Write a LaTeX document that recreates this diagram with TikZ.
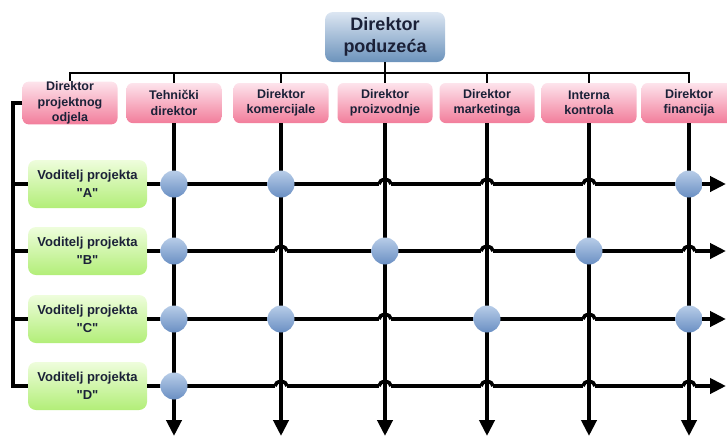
\documentclass[tikz,border=0pt]{standalone}
\usepackage{fontspec}
\setmainfont{Liberation Sans}
\usetikzlibrary{arrows.meta}
\definecolor{txt}{HTML}{1B2138}
\definecolor{bosstop}{HTML}{DCE6F2}
\definecolor{bossbot}{HTML}{6C93BC}
\definecolor{depttop}{HTML}{FDE4EC}
\definecolor{deptbot}{HTML}{F27D9B}
\definecolor{projtop}{HTML}{EEFDDC}
\definecolor{projbot}{HTML}{B2EE78}
\definecolor{dottop}{HTML}{B8CDE8}
\definecolor{dotbot}{HTML}{6A8FC3}
\newcommand{\proj}[1]{Voditelj projekta\\\textquotedbl#1\textquotedbl}
\tikzset{
  boss/.style={rounded corners=8pt, top color=bosstop, bottom color=bossbot,
    minimum width=120pt, minimum height=50pt, inner sep=0pt, align=center,
    text=txt, font=\bfseries\fontsize{18}{22}\selectfont},
  dept/.style={rounded corners=6pt, top color=depttop, bottom color=deptbot,
    minimum width=95pt, minimum height=40pt, inner sep=0pt, align=center,
    text=txt, font=\bfseries\fontsize{12.5}{15.5}\selectfont},
  proj/.style={rounded corners=8pt, top color=projtop, bottom color=projbot,
    minimum width=119pt, minimum height=48pt, inner sep=0pt, align=center,
    text=txt, font=\bfseries\fontsize{13}{18}\selectfont},
  flow/.style={line width=4pt},
  arr/.style={flow, -{Triangle[length=16pt,width=15pt]}},
  bus/.style={line width=1.5pt},
  hop/.style={line width=3.6pt},
  dot/.style={circle, inner sep=0pt, minimum size=27pt,
    top color=dottop, bottom color=dotbot},
}
\begin{document}
\begin{tikzpicture}[x=1pt,y=-1pt]
\useasboundingbox (0,0) rectangle (727,437);

% uprava
\node[boss] (boss) at (385,37) {Direktor\\poduzeća};

% direktori
\node[dept] (dpo) at (70,103) {Direktor\\projektnog\\odjela};
\node[dept] (teh) at (174,103) {Tehnički\\direktor};
\node[dept] (kom) at (281,103) {Direktor\\komercijale};
\node[dept] (pro) at (385,103) {Direktor\\proizvodnje};
\node[dept] (mar) at (487,103) {Direktor\\marketinga};
\node[dept] (kon) at (589,103) {Interna\\kontrola};
\node[dept] (fin) at (689,103) {Direktor\\financija};

% voditelji projekata
\node[proj] (pA) at (87.5,184) {\proj{A}};
\node[proj] (pB) at (87.5,251) {\proj{B}};
\node[proj] (pC) at (87.5,319) {\proj{C}};
\node[proj] (pD) at (87.5,386) {\proj{D}};

\coordinate (bus) at (385,73);
\coordinate (rail) at (13,386);
\coordinate (wall) at (726,0);
\coordinate (floor) at (0,436);

% linija podređenosti
\draw[bus] (boss) -- (bus);
\draw[bus] (dpo.north) -- (dpo.north |- bus) -- (fin.north |- bus) -- (fin.north);
\foreach \d in {teh,kom,pro,mar,kon}
  \draw[bus] (\d.north) -- (\d.north |- bus);

% lijeva vodilica
\draw[flow] (dpo.west) -| (rail) -- (pD.west);
\foreach \r in {A,B,C}
  \draw[flow] (p\r.west) -- (p\r.west -| rail);

% projekti (vodoravno)
\foreach \r in {A,B,C,D} {
  \coordinate (p\r-end) at (wall |- p\r);
  \draw[arr] (p\r) -- (p\r-end);
}

% prekidi za premoštenja
\foreach \r/\d in {A/pro,A/mar,A/kon,B/kom,B/mar,B/fin,C/pro,C/kon,
                   D/kom,D/pro,D/mar,D/kon,D/fin}
  \fill[white] ([xshift=-6pt,yshift=-2.5pt]\d |- p\r)
    rectangle ([xshift=6pt,yshift=2.5pt]\d |- p\r);

% funkcije (okomito)
\foreach \d in {teh,kom,pro,mar,kon,fin} {
  \coordinate (\d-end) at (\d |- floor);
  \draw[arr] (\d) -- (\d-end);
}

% premoštenja
\foreach \r/\d in {A/pro,A/mar,A/kon,B/kom,B/mar,B/fin,C/pro,C/kon,
                   D/kom,D/pro,D/mar,D/kon,D/fin}
  \draw[hop] ([xshift=-6pt]\d |- p\r) arc[start angle=180,end angle=0,x radius=6pt,y radius=4.5pt];

% sudjelovanje
\foreach \r/\d in {A/teh,A/kom,A/fin,B/teh,B/pro,B/kon,C/teh,C/kom,C/mar,C/fin,D/teh}
  \node[dot] (\r-\d) at (\d |- p\r) {};

\end{tikzpicture}
\end{document}
